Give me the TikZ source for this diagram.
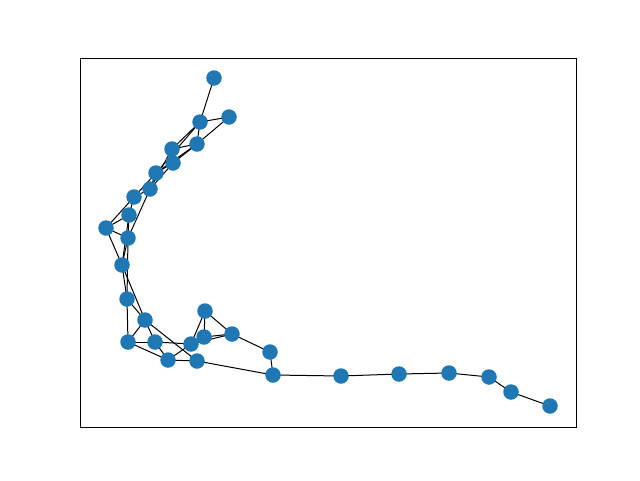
\documentclass[tikz,border=0pt]{standalone}
\usetikzlibrary{backgrounds}
\definecolor{tabblue}{HTML}{1F77B4}
\begin{document}
\begin{tikzpicture}[x=1pt,y=-1pt]
    % Define style for vertex and edge
    \tikzstyle{vertex} = [circle, fill=tabblue, inner sep=0pt, minimum size=15.5pt]
    \tikzstyle{link} = [draw, black, line width=1pt]

    \useasboundingbox (0,0) rectangle (640,480);
    \draw[black, line width=0.8pt] (80,58) rectangle (576,427);

    % Draw the vertices
    \foreach \name/\px/\py in {a/214/78, b/229/117, c/200/122, d/197/144, e/172/149,
        f/173/163, g/156/173, h/150/189, i/134/197, j/129/215, k/106/228,
        l/128/238, m/122/265, n/127/299, o/145/320, p/205/311, q/232/334,
        r/204/337, s/128/342, t/155/342, u/191/344, v/168/360, w/197/361,
        x/270/352, y/273/375, z/341/376, aa/399/374, ab/449/373, ac/489/377,
        ad/511/392, ae/550/406} {
        \node(\name)[vertex] at (\px,\py) {};
      }

    % Draw the edges behind
    \begin{pgfonlayer}{background}
    \foreach \from/\to in {a/c, b/c, b/d, c/d, c/e, c/g, d/e, d/f, d/g, e/f,
        e/h, f/g, f/h, g/h, g/i, h/i, h/l, i/j, i/k, j/k, j/l, j/m, k/l, k/m,
        l/m, l/n, m/n, m/o, n/o, n/s, o/s, o/t, o/w, s/t, s/v, t/u, t/v, v/w,
        v/u, u/r, u/p, u/q, r/p, r/q, p/q, q/x, x/y, w/y, y/z, z/aa, aa/ab,
        ab/ac, ac/ad, ad/ae} {
        \path[link] (\from.center) -- (\to.center);
      }
    \end{pgfonlayer}
  \end{tikzpicture}
\end{document}
